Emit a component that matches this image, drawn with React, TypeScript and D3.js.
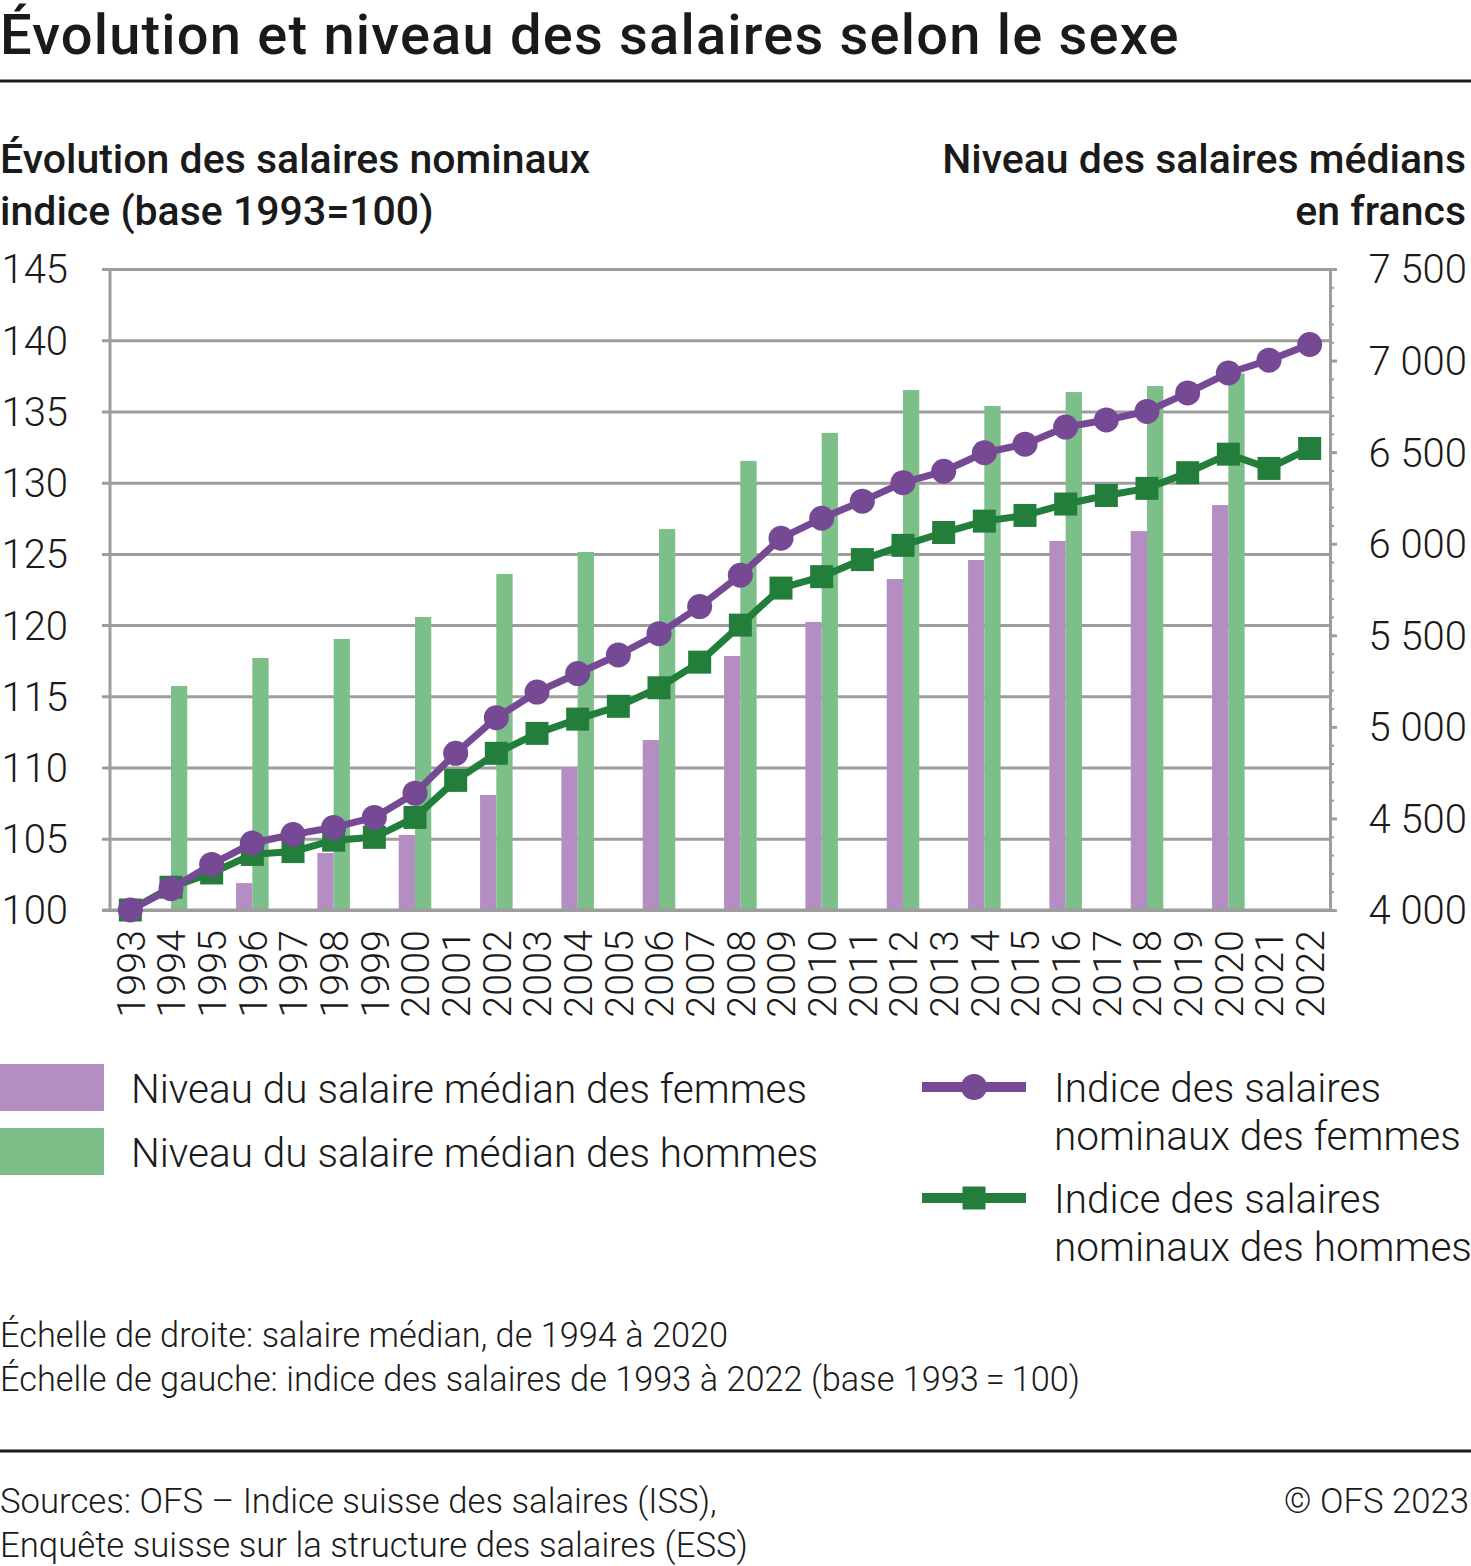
import { useEffect, useRef } from "react";
import * as d3 from "d3";

// Years on the category axis
const YEARS = [
  "1993", "1994", "1995", "1996", "1997", "1998", "1999", "2000", "2001", "2002",
  "2003", "2004", "2005", "2006", "2007", "2008", "2009", "2010", "2011", "2012",
  "2013", "2014", "2015", "2016", "2017", "2018", "2019", "2020", "2021", "2022",
];

// Nominal wage index (base 1993 = 100), left scale
const INDEX_WOMEN = [
  100, 101.5, 103.2, 104.7, 105.3, 105.8, 106.5, 108.2, 111.0, 113.5,
  115.3, 116.6, 117.9, 119.4, 121.3, 123.5, 126.1, 127.5, 128.7, 130.0,
  130.8, 132.1, 132.7, 133.9, 134.4, 135.0, 136.3, 137.7, 138.6, 139.7,
];
const INDEX_MEN = [
  100, 101.6, 102.6, 103.9, 104.1, 104.9, 105.1, 106.5, 109.1, 111.0,
  112.4, 113.4, 114.3, 115.6, 117.4, 120.0, 122.6, 123.4, 124.6, 125.6,
  126.5, 127.3, 127.7, 128.5, 129.1, 129.6, 130.7, 132.0, 131.0, 132.4,
];

// Median wage in francs, right scale (survey years only)
const BAR_YEARS = [
  "1994", "1996", "1998", "2000", "2002", "2004", "2006",
  "2008", "2010", "2012", "2014", "2016", "2018", "2020",
];
const MEDIAN_WOMEN: (number | null)[] = [
  null, 4147, 4311, 4410, 4628, 4781, 4928,
  5387, 5573, 5807, 5911, 6015, 6069, 6211,
];
const MEDIAN_MEN = [
  5223, 5376, 5480, 5600, 5835, 5955, 6080,
  6452, 6605, 6839, 6752, 6828, 6861, 6930,
];

const LEFT_TICKS = [100, 105, 110, 115, 120, 125, 130, 135, 140, 145];
const RIGHT_TICKS = [4000, 4500, 5000, 5500, 6000, 6500, 7000, 7500];

const C_WOMEN_BAR = "#b48ec2";
const C_MEN_BAR = "#7dbf89";
const C_WOMEN_LINE = "#764995";
const C_MEN_LINE = "#237d3b";
const C_GRID = "#9d9d9d";
const C_TEXT = "#1a1a1a";

export default function App() {
  const svgRef = useRef<SVGSVGElement | null>(null);

  useEffect(() => {
    document.body.style.margin = "0";
    if (!svgRef.current) return;

    const width = 1471;
    const height = 1566;
    const plot = { left: 110, right: 1330, top: 269, bottom: 910 };

    const svg = d3
      .select(svgRef.current)
      .attr("width", width)
      .attr("height", height)
      .attr("viewBox", `0 0 ${width} ${height}`)
      .style("font-family", "Roboto, sans-serif");

    svg.selectAll("*").remove();

    const x = d3.scaleBand<string>().domain(YEARS).range([plot.left, plot.right]).padding(0);
    const cx = (y: string) => (x(y) ?? 0) + x.bandwidth() / 2;
    const yLeft = d3.scaleLinear().domain([100, 145]).range([plot.bottom, plot.top]);
    const yRight = d3.scaleLinear().domain([4000, 7500]).range([plot.bottom, plot.top]);
    const fr = d3.formatLocale({ decimal: ",", thousands: " ", grouping: [3], currency: ["", ""] }).format(",");

    // title
    svg.append("text").attr("x", 0).attr("y", 54)
      .attr("font-size", 56).attr("font-weight", 500).attr("letter-spacing", 1.2).attr("fill", C_TEXT)
      .text("Évolution et niveau des salaires selon le sexe");
    svg.append("line").attr("x1", 0).attr("x2", width).attr("y1", 81).attr("y2", 81)
      .attr("stroke", C_TEXT).attr("stroke-width", 3);

    // axis titles
    const axTitle = svg.append("g").attr("font-size", 41).attr("font-weight", 500).attr("fill", C_TEXT);
    axTitle.append("text").attr("x", 0).attr("y", 173).text("Évolution des salaires nominaux");
    axTitle.append("text").attr("x", 0).attr("y", 225).text("indice (base 1993=100)");
    axTitle.append("text").attr("x", 1466).attr("y", 173).attr("text-anchor", "end").text("Niveau des salaires médians");
    axTitle.append("text").attr("x", 1466).attr("y", 225).attr("text-anchor", "end").text("en francs");

    // gridlines + left axis
    const leftAxis = d3.axisLeft(yLeft).tickValues(LEFT_TICKS).tickSize(plot.right - 102).tickSizeOuter(0);
    const gl = svg.append("g").attr("transform", `translate(${plot.right},0)`).call(leftAxis);
    gl.select(".domain").remove();
    gl.selectAll(".tick line").attr("stroke", C_GRID).attr("stroke-width", 3);
    gl.selectAll(".tick text").remove();

    svg.append("g").selectAll("text").data(LEFT_TICKS).join("text")
      .attr("x", 68).attr("y", (d) => yLeft(d)).attr("dy", "0.36em")
      .attr("text-anchor", "end").attr("font-size", 40).attr("font-weight", 300).attr("fill", C_TEXT)
      .text((d) => String(d));

    // bars
    const bw = x.bandwidth() * 0.4;
    const bars = svg.append("g");
    bars.selectAll("rect.w").data(BAR_YEARS.map((y, i) => ({ y, v: MEDIAN_WOMEN[i] })).filter((d) => d.v != null))
      .join("rect").attr("class", "w")
      .attr("x", (d) => cx(d.y) - bw).attr("width", bw)
      .attr("y", (d) => yRight(d.v as number)).attr("height", (d) => plot.bottom - yRight(d.v as number))
      .attr("fill", C_WOMEN_BAR);
    bars.selectAll("rect.m").data(BAR_YEARS.map((y, i) => ({ y, v: MEDIAN_MEN[i] })))
      .join("rect").attr("class", "m")
      .attr("x", (d) => cx(d.y)).attr("width", bw)
      .attr("y", (d) => yRight(d.v)).attr("height", (d) => plot.bottom - yRight(d.v))
      .attr("fill", C_MEN_BAR);

    // axis frame lines
    svg.append("line").attr("x1", plot.left).attr("x2", plot.left).attr("y1", plot.top).attr("y2", plot.bottom)
      .attr("stroke", C_GRID).attr("stroke-width", 3);
    svg.append("line").attr("x1", 102).attr("x2", plot.right).attr("y1", plot.bottom).attr("y2", plot.bottom)
      .attr("stroke", C_GRID).attr("stroke-width", 3);

    // right axis
    const rightMinor = svg.append("g").attr("transform", `translate(${plot.right},0)`)
      .call(d3.axisRight(yRight).ticks(35).tickSize(4).tickFormat(() => ""));
    rightMinor.select(".domain").remove();
    rightMinor.selectAll(".tick line").attr("stroke", C_GRID).attr("stroke-width", 2);
    const rightMajor = svg.append("g").attr("transform", `translate(${plot.right},0)`)
      .call(d3.axisRight(yRight).tickValues(RIGHT_TICKS).tickSize(7).tickSizeOuter(0).tickFormat(() => ""));
    rightMajor.select(".domain").attr("stroke", C_GRID).attr("stroke-width", 3);
    rightMajor.selectAll(".tick line").attr("stroke", C_GRID).attr("stroke-width", 3);

    svg.append("g").selectAll("text").data(RIGHT_TICKS).join("text")
      .attr("x", 1467).attr("y", (d) => yRight(d)).attr("dy", "0.36em")
      .attr("text-anchor", "end").attr("font-size", 40).attr("font-weight", 300).attr("fill", C_TEXT)
      .text((d) => fr(d));

    // year labels
    svg.append("g").selectAll("text").data(YEARS).join("text")
      .attr("transform", (d) => `translate(${cx(d)},930) rotate(-90)`)
      .attr("dy", "0.36em").attr("text-anchor", "end")
      .attr("font-size", 39.5).attr("font-weight", 300).attr("fill", C_TEXT)
      .text((d) => d);

    // lines
    const line = d3.line<number>().x((_, i) => cx(YEARS[i])).y((d) => yLeft(d));
    svg.append("path").datum(INDEX_MEN).attr("d", line).attr("fill", "none")
      .attr("stroke", C_MEN_LINE).attr("stroke-width", 7).attr("stroke-linejoin", "round");
    svg.append("g").selectAll("rect").data(INDEX_MEN).join("rect")
      .attr("x", (_, i) => cx(YEARS[i]) - 11.5).attr("y", (d) => yLeft(d) - 11.5)
      .attr("width", 23).attr("height", 23).attr("fill", C_MEN_LINE);

    svg.append("path").datum(INDEX_WOMEN).attr("d", line).attr("fill", "none")
      .attr("stroke", C_WOMEN_LINE).attr("stroke-width", 7).attr("stroke-linejoin", "round");
    svg.append("g").selectAll("circle").data(INDEX_WOMEN).join("circle")
      .attr("cx", (_, i) => cx(YEARS[i])).attr("cy", (d) => yLeft(d))
      .attr("r", 12.5).attr("fill", C_WOMEN_LINE);

    // legend
    const lg = svg.append("g").attr("font-size", 40.5).attr("font-weight", 300).attr("fill", C_TEXT);
    lg.append("rect").attr("x", 0).attr("y", 1064).attr("width", 104).attr("height", 47).attr("fill", C_WOMEN_BAR);
    lg.append("rect").attr("x", 0).attr("y", 1128).attr("width", 104).attr("height", 47).attr("fill", C_MEN_BAR);
    lg.append("text").attr("x", 131).attr("y", 1103).text("Niveau du salaire médian des femmes");
    lg.append("text").attr("x", 131).attr("y", 1167).text("Niveau du salaire médian des hommes");

    lg.append("line").attr("x1", 922).attr("x2", 1026).attr("y1", 1087).attr("y2", 1087)
      .attr("stroke", C_WOMEN_LINE).attr("stroke-width", 10);
    lg.append("circle").attr("cx", 974).attr("cy", 1087).attr("r", 13).attr("fill", C_WOMEN_LINE);
    lg.append("line").attr("x1", 922).attr("x2", 1026).attr("y1", 1198).attr("y2", 1198)
      .attr("stroke", C_MEN_LINE).attr("stroke-width", 10);
    lg.append("rect").attr("x", 962.5).attr("y", 1186.5).attr("width", 23).attr("height", 23).attr("fill", C_MEN_LINE);
    lg.append("text").attr("x", 1054).attr("y", 1102).text("Indice des salaires");
    lg.append("text").attr("x", 1054).attr("y", 1150).text("nominaux des femmes");
    lg.append("text").attr("x", 1054).attr("y", 1213).text("Indice des salaires");
    lg.append("text").attr("x", 1054).attr("y", 1261).text("nominaux des hommes");

    // notes
    const nt = svg.append("g").attr("font-size", 34.3).attr("font-weight", 300).attr("fill", C_TEXT);
    nt.append("text").attr("x", 0).attr("y", 1347).text("Échelle de droite: salaire médian, de 1994 à 2020");
    nt.append("text").attr("x", 0).attr("y", 1391).text("Échelle de gauche: indice des salaires de 1993 à 2022 (base 1993\u2009=\u2009100)");
    svg.append("line").attr("x1", 0).attr("x2", width).attr("y1", 1451).attr("y2", 1451)
      .attr("stroke", C_TEXT).attr("stroke-width", 3);
    const src = svg.append("g").attr("font-size", 34.7).attr("font-weight", 300).attr("fill", C_TEXT);
    src.append("text").attr("x", 0).attr("y", 1513).text("Sources: OFS – Indice suisse des salaires (ISS),");
    src.append("text").attr("x", 0).attr("y", 1557).text("Enquête suisse sur la structure des salaires (ESS)");
    src.append("text").attr("x", 1469).attr("y", 1513).attr("text-anchor", "end").text("© OFS 2023");
  }, []);

  return (
    <div>
      <svg ref={svgRef}></svg>
    </div>
  );
}
